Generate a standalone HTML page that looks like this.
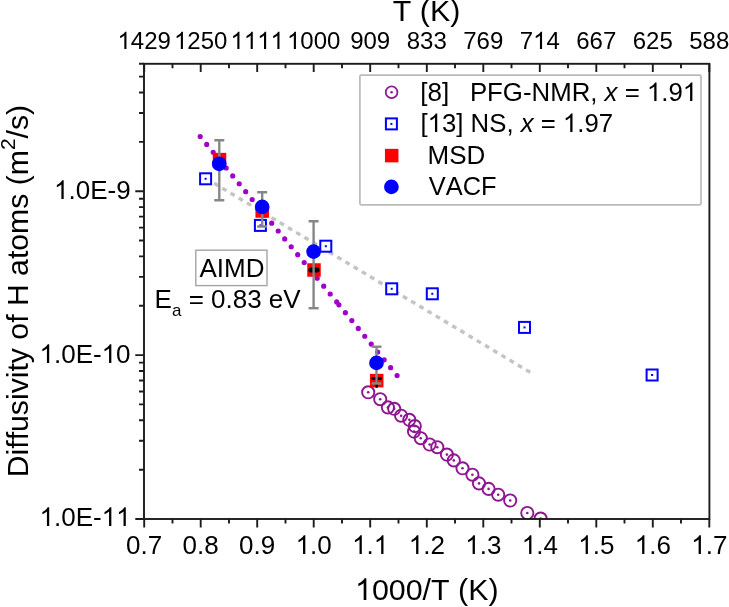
<!DOCTYPE html>
<html><head><meta charset="utf-8"><style>
html,body{margin:0;padding:0;background:#fff;}
body{width:729px;height:607px;overflow:hidden;font-family:"Liberation Sans",sans-serif;}
svg{display:block;} text{filter:grayscale(1);font-kerning:none;font-feature-settings:"kern" 0;}
</style></head><body>
<svg width="729" height="607" viewBox="0 0 729 607">
<rect width="729" height="607" fill="#fff"/>
<defs><clipPath id="pc"><rect x="144.0" y="63.8" width="565.4" height="455.2"/></clipPath></defs>
<g clip-path="url(#pc)">
<line x1="214.14" y1="183.27" x2="530.3" y2="372.4" stroke="#c4c4c4" stroke-width="3.4" stroke-dasharray="4.8 4.765"/>
<line x1="200.2" y1="136.5" x2="336.8" y2="302.0" stroke="#a000cc" stroke-width="5.2" stroke-linecap="round" stroke-dasharray="0 10.212"/>
<line x1="338.9" y1="304.8" x2="397.2" y2="375.7" stroke="#a000cc" stroke-width="5.2" stroke-linecap="round" stroke-dasharray="0 10.18"/>
<circle cx="368.2" cy="392.3" r="6.1" fill="none" stroke="#8e1690" stroke-width="1.9"/>
<circle cx="368.2" cy="392.3" r="1.3" fill="#8e1690"/>
<circle cx="380.2" cy="399.2" r="6.1" fill="none" stroke="#8e1690" stroke-width="1.9"/>
<circle cx="380.2" cy="399.2" r="1.3" fill="#8e1690"/>
<circle cx="387.9" cy="407.4" r="6.1" fill="none" stroke="#8e1690" stroke-width="1.9"/>
<circle cx="387.9" cy="407.4" r="1.3" fill="#8e1690"/>
<circle cx="394.2" cy="408.8" r="6.1" fill="none" stroke="#8e1690" stroke-width="1.9"/>
<circle cx="394.2" cy="408.8" r="1.3" fill="#8e1690"/>
<circle cx="401.1" cy="415.7" r="6.1" fill="none" stroke="#8e1690" stroke-width="1.9"/>
<circle cx="401.1" cy="415.7" r="1.3" fill="#8e1690"/>
<circle cx="409.3" cy="419.8" r="6.1" fill="none" stroke="#8e1690" stroke-width="1.9"/>
<circle cx="409.3" cy="419.8" r="1.3" fill="#8e1690"/>
<circle cx="414.8" cy="426.1" r="6.1" fill="none" stroke="#8e1690" stroke-width="1.9"/>
<circle cx="414.8" cy="426.1" r="1.3" fill="#8e1690"/>
<circle cx="414.0" cy="431.6" r="6.1" fill="none" stroke="#8e1690" stroke-width="1.9"/>
<circle cx="414.0" cy="431.6" r="1.3" fill="#8e1690"/>
<circle cx="420.8" cy="438.2" r="6.1" fill="none" stroke="#8e1690" stroke-width="1.9"/>
<circle cx="420.8" cy="438.2" r="1.3" fill="#8e1690"/>
<circle cx="429.6" cy="444.5" r="6.1" fill="none" stroke="#8e1690" stroke-width="1.9"/>
<circle cx="429.6" cy="444.5" r="1.3" fill="#8e1690"/>
<circle cx="437.3" cy="447.2" r="6.1" fill="none" stroke="#8e1690" stroke-width="1.9"/>
<circle cx="437.3" cy="447.2" r="1.3" fill="#8e1690"/>
<circle cx="446.9" cy="454.6" r="6.1" fill="none" stroke="#8e1690" stroke-width="1.9"/>
<circle cx="446.9" cy="454.6" r="1.3" fill="#8e1690"/>
<circle cx="453.8" cy="460.4" r="6.1" fill="none" stroke="#8e1690" stroke-width="1.9"/>
<circle cx="453.8" cy="460.4" r="1.3" fill="#8e1690"/>
<circle cx="462.5" cy="468.3" r="6.1" fill="none" stroke="#8e1690" stroke-width="1.9"/>
<circle cx="462.5" cy="468.3" r="1.3" fill="#8e1690"/>
<circle cx="472.4" cy="474.7" r="6.1" fill="none" stroke="#8e1690" stroke-width="1.9"/>
<circle cx="472.4" cy="474.7" r="1.3" fill="#8e1690"/>
<circle cx="479.0" cy="483.4" r="6.1" fill="none" stroke="#8e1690" stroke-width="1.9"/>
<circle cx="479.0" cy="483.4" r="1.3" fill="#8e1690"/>
<circle cx="488.6" cy="488.9" r="6.1" fill="none" stroke="#8e1690" stroke-width="1.9"/>
<circle cx="488.6" cy="488.9" r="1.3" fill="#8e1690"/>
<circle cx="498.2" cy="494.7" r="6.1" fill="none" stroke="#8e1690" stroke-width="1.9"/>
<circle cx="498.2" cy="494.7" r="1.3" fill="#8e1690"/>
<circle cx="510.2" cy="500.5" r="6.1" fill="none" stroke="#8e1690" stroke-width="1.9"/>
<circle cx="510.2" cy="500.5" r="1.3" fill="#8e1690"/>
<circle cx="527.3" cy="513.0" r="6.1" fill="none" stroke="#8e1690" stroke-width="1.9"/>
<circle cx="527.3" cy="513.0" r="1.3" fill="#8e1690"/>
<circle cx="540.6" cy="518.6" r="6.1" fill="none" stroke="#8e1690" stroke-width="1.9"/>
<circle cx="540.6" cy="518.6" r="1.3" fill="#8e1690"/>
<rect x="200.1" y="173.3" width="11" height="11" fill="#fff" stroke="#0000ff" stroke-width="2"/>
<rect x="204.6" y="177.8" width="2" height="2" fill="#0000ff"/>
<rect x="254.9" y="219.9" width="11" height="11" fill="#fff" stroke="#0000ff" stroke-width="2"/>
<rect x="259.4" y="224.4" width="2" height="2" fill="#0000ff"/>
<rect x="320.3" y="240.7" width="11" height="11" fill="#fff" stroke="#0000ff" stroke-width="2"/>
<rect x="324.8" y="245.2" width="2" height="2" fill="#0000ff"/>
<rect x="386.2" y="283.3" width="11" height="11" fill="#fff" stroke="#0000ff" stroke-width="2"/>
<rect x="390.7" y="287.8" width="2" height="2" fill="#0000ff"/>
<rect x="426.8" y="288.3" width="11" height="11" fill="#fff" stroke="#0000ff" stroke-width="2"/>
<rect x="431.3" y="292.8" width="2" height="2" fill="#0000ff"/>
<rect x="519.0" y="321.9" width="11" height="11" fill="#fff" stroke="#0000ff" stroke-width="2"/>
<rect x="523.5" y="326.4" width="2" height="2" fill="#0000ff"/>
<rect x="646.6" y="369.5" width="11" height="11" fill="#fff" stroke="#0000ff" stroke-width="2"/>
<rect x="651.1" y="374.0" width="2" height="2" fill="#0000ff"/>
<rect x="212.75" y="152.85" width="13.5" height="13.5" fill="#ff0000"/>
<rect x="255.45" y="204.25" width="13.5" height="13.5" fill="#ff0000"/>
<rect x="307.25" y="263.25" width="13.5" height="13.5" fill="#ff0000"/>
<rect x="369.95" y="373.85" width="13.5" height="13.5" fill="#ff0000"/>
<rect x="308.3" y="267.4" width="11.3" height="5" rx="2.5" fill="#000"/>
<line x1="376.6" y1="378.5" x2="376.6" y2="387.8" stroke="#000" stroke-width="2.4"/>
<line x1="372.6" y1="378.5" x2="380.6" y2="378.5" stroke="#000" stroke-width="2.8" stroke-linecap="round"/>
<line x1="219.3" y1="140.2" x2="219.3" y2="200.2" stroke="#878787" stroke-width="2.4"/>
<line x1="214.3" y1="140.2" x2="224.3" y2="140.2" stroke="#878787" stroke-width="2.4"/>
<line x1="214.3" y1="200.2" x2="224.3" y2="200.2" stroke="#878787" stroke-width="2.4"/>
<line x1="262.2" y1="192.3" x2="262.2" y2="226.5" stroke="#878787" stroke-width="2.4"/>
<line x1="257.2" y1="192.3" x2="267.2" y2="192.3" stroke="#878787" stroke-width="2.4"/>
<line x1="257.2" y1="226.5" x2="267.2" y2="226.5" stroke="#878787" stroke-width="2.4"/>
<line x1="313.6" y1="221.3" x2="313.6" y2="308.2" stroke="#878787" stroke-width="2.4"/>
<line x1="308.6" y1="221.3" x2="318.6" y2="221.3" stroke="#878787" stroke-width="2.4"/>
<line x1="308.6" y1="308.2" x2="318.6" y2="308.2" stroke="#878787" stroke-width="2.4"/>
<line x1="376.5" y1="346.7" x2="376.5" y2="383.5" stroke="#878787" stroke-width="2.4"/>
<line x1="371.5" y1="346.7" x2="381.5" y2="346.7" stroke="#878787" stroke-width="2.4"/>
<line x1="371.5" y1="383.5" x2="381.5" y2="383.5" stroke="#878787" stroke-width="2.4"/>
<circle cx="219.2" cy="163.8" r="7.35" fill="#0000ff"/>
<circle cx="262.2" cy="206.9" r="7.35" fill="#0000ff"/>
<circle cx="313.6" cy="251.6" r="7.35" fill="#0000ff"/>
<circle cx="376.5" cy="362.9" r="7.35" fill="#0000ff"/>
</g>
<g stroke="#1c1c1c" stroke-width="1.9" fill="none">
<rect x="144.0" y="63.8" width="565.4" height="455.2"/>
<path d="M144.2 519.0V527.5 M144.2 63.8V72.1 M200.7 519.0V527.5 M200.7 63.8V72.1 M257.2 519.0V527.5 M257.2 63.8V72.1 M313.7 519.0V527.5 M313.7 63.8V72.1 M370.2 519.0V527.5 M370.2 63.8V72.1 M426.8 519.0V527.5 M426.8 63.8V72.1 M483.3 519.0V527.5 M483.3 63.8V72.1 M539.8 519.0V527.5 M539.8 63.8V72.1 M596.3 519.0V527.5 M596.3 63.8V72.1 M652.8 519.0V527.5 M652.8 63.8V72.1 M709.3 519.0V527.5 M709.3 63.8V72.1 M172.5 519.0V523.5 M172.5 63.8V68.3 M229.0 519.0V523.5 M229.0 63.8V68.3 M285.5 519.0V523.5 M285.5 63.8V68.3 M342.0 519.0V523.5 M342.0 63.8V68.3 M398.5 519.0V523.5 M398.5 63.8V68.3 M455.0 519.0V523.5 M455.0 63.8V68.3 M511.5 519.0V523.5 M511.5 63.8V68.3 M568.0 519.0V523.5 M568.0 63.8V68.3 M624.5 519.0V523.5 M624.5 63.8V68.3 M681.0 519.0V523.5 M681.0 63.8V68.3 M135.3 519.0H144.0 M139.0 469.7H144.0 M139.0 440.8H144.0 M139.0 420.3H144.0 M139.0 404.4H144.0 M139.0 391.5H144.0 M139.0 380.5H144.0 M139.0 371.0H144.0 M139.0 362.6H144.0 M135.3 355.1H144.0 M139.0 305.8H144.0 M139.0 276.9H144.0 M139.0 256.4H144.0 M139.0 240.5H144.0 M139.0 227.6H144.0 M139.0 216.6H144.0 M139.0 207.1H144.0 M139.0 198.7H144.0 M135.3 191.2H144.0 M139.0 141.9H144.0 M139.0 113.0H144.0 M139.0 92.5H144.0 M139.0 76.6H144.0 M139.0 63.7H144.0"/>
</g>
<g font-family="Liberation Sans, sans-serif" font-size="26" fill="#000">
<text x="130.6" y="199" text-anchor="end"> .0E-9</text>
<text x="130.6" y="363" text-anchor="end"> .0E- 0</text>
<text x="130.6" y="526" text-anchor="end"> .0E-  </text>
<text x="144.2" y="554" text-anchor="middle">0.7</text>
<text x="200.7" y="554" text-anchor="middle">0.8</text>
<text x="257.2" y="554" text-anchor="middle">0.9</text>
<text x="313.7" y="554" text-anchor="middle"> .0</text>
<text x="370.2" y="554" text-anchor="middle"> . </text>
<text x="426.8" y="554" text-anchor="middle"> .2</text>
<text x="483.3" y="554" text-anchor="middle"> .3</text>
<text x="539.8" y="554" text-anchor="middle"> .4</text>
<text x="596.3" y="554" text-anchor="middle"> .5</text>
<text x="652.8" y="554" text-anchor="middle"> .6</text>
<text x="709.3" y="554" text-anchor="middle"> .7</text>
</g>
<g font-family="Liberation Sans, sans-serif" font-size="24" fill="#000">
<text x="144.2" y="49" text-anchor="middle"> 429</text>
<text x="200.7" y="49" text-anchor="middle"> 250</text>
<text x="257.2" y="49" text-anchor="middle">    </text>
<text x="313.7" y="49" text-anchor="middle"> 000</text>
<text x="370.2" y="49" text-anchor="middle">909</text>
<text x="426.8" y="49" text-anchor="middle">833</text>
<text x="483.3" y="49" text-anchor="middle">769</text>
<text x="539.8" y="49" text-anchor="middle">7 4</text>
<text x="596.3" y="49" text-anchor="middle">667</text>
<text x="652.8" y="49" text-anchor="middle">625</text>
<text x="709.3" y="49" text-anchor="middle">588</text>
</g>
<g font-family="Liberation Sans, sans-serif" font-size="30" fill="#000">
<text x="426.6" y="21" text-anchor="middle" font-size="30.4">T (K)</text>
<text x="426.8" y="600" text-anchor="middle" font-size="30.4"> 000/T (K)</text>
<text transform="translate(28.2,477.2) rotate(-90)" x="0" y="0" font-size="30.2">Diffusivity of H atoms (m<tspan font-size="21" dy="-13.5">2</tspan><tspan dy="13.5">/s)</tspan></text>
</g>
<rect x="359.9" y="75.1" width="341.1" height="129.7" rx="1.2" fill="#fff" stroke="#bababa" stroke-width="1.7"/>
<circle cx="391.6" cy="92.3" r="5.85" fill="none" stroke="#901a94" stroke-width="1.8"/><circle cx="391.6" cy="92.3" r="1.3" fill="#901a94"/>
<rect x="385.9" y="118.4" width="11" height="11" fill="none" stroke="#0000ff" stroke-width="2"/><rect x="390.4" y="122.9" width="2" height="2" fill="#0000ff"/>
<rect x="384.95" y="148.85" width="13.5" height="13.5" fill="#ff0000"/>
<circle cx="391.4" cy="186.9" r="7.35" fill="#0000ff"/>
<g font-family="Liberation Sans, sans-serif" font-size="26" fill="#000">
<text x="420.3" y="101">[8]</text><text x="469.9" y="101" font-size="25.8">PFG-NMR, <tspan font-style="italic">x</tspan> =  .9 </text>
<text x="420.5" y="132" font-size="25.75">[ 3] NS, <tspan font-style="italic">x</tspan> =  .97</text>
<text x="427.5" y="164">MSD</text>
<text x="428.8" y="195" font-size="25.4">VACF</text>
</g>
<rect x="195.8" y="250.2" width="71.2" height="35.4" fill="#fff" stroke="#a4a4a4" stroke-width="1.4"/>
<text font-family="Liberation Sans, sans-serif" font-size="26" x="199.5" y="277">AIMD</text>
<text font-family="Liberation Sans, sans-serif" font-size="26" x="154.6" y="308">E<tspan font-size="17" dy="7.5">a</tspan><tspan dy="-7.5"> = 0.83 eV</tspan></text>
<defs><path id="one" d="M763 0H583V1147Q518 1085 412.5 1023Q307 961 223 930V1104Q374 1175 487 1276Q600 1377 647 1472H763Z"/></defs><g fill="#000" class="ones"><use href="#one" transform="translate(53.99,199.00) scale(0.012695,-0.012695)"/><use href="#one" transform="translate(39.52,363.00) scale(0.012695,-0.012695)"/><use href="#one" transform="translate(101.66,363.00) scale(0.012695,-0.012695)"/><use href="#one" transform="translate(39.52,526.00) scale(0.012695,-0.012695)"/><use href="#one" transform="translate(101.66,526.00) scale(0.012695,-0.012695)"/><use href="#one" transform="translate(116.12,526.00) scale(0.012695,-0.012695)"/><use href="#one" transform="translate(295.62,554.00) scale(0.012695,-0.012695)"/><use href="#one" transform="translate(352.12,554.00) scale(0.012695,-0.012695)"/><use href="#one" transform="translate(373.79,554.00) scale(0.012695,-0.012695)"/><use href="#one" transform="translate(408.72,554.00) scale(0.012695,-0.012695)"/><use href="#one" transform="translate(465.22,554.00) scale(0.012695,-0.012695)"/><use href="#one" transform="translate(521.72,554.00) scale(0.012695,-0.012695)"/><use href="#one" transform="translate(578.22,554.00) scale(0.012695,-0.012695)"/><use href="#one" transform="translate(634.72,554.00) scale(0.012695,-0.012695)"/><use href="#one" transform="translate(691.22,554.00) scale(0.012695,-0.012695)"/><use href="#one" transform="translate(117.50,49.00) scale(0.011719,-0.011719)"/><use href="#one" transform="translate(174.00,49.00) scale(0.011719,-0.011719)"/><use href="#one" transform="translate(230.50,49.00) scale(0.011719,-0.011719)"/><use href="#one" transform="translate(243.85,49.00) scale(0.011719,-0.011719)"/><use href="#one" transform="translate(257.19,49.00) scale(0.011719,-0.011719)"/><use href="#one" transform="translate(270.54,49.00) scale(0.011719,-0.011719)"/><use href="#one" transform="translate(287.00,49.00) scale(0.011719,-0.011719)"/><use href="#one" transform="translate(533.12,49.00) scale(0.011719,-0.011719)"/><use href="#one" transform="translate(355.01,600.00) scale(0.014844,-0.014844)"/><use href="#one" transform="translate(646.90,101.00) scale(0.012598,-0.012598)"/><use href="#one" transform="translate(682.76,101.00) scale(0.012598,-0.012598)"/><use href="#one" transform="translate(427.64,132.00) scale(0.012573,-0.012573)"/><use href="#one" transform="translate(562.91,132.00) scale(0.012573,-0.012573)"/></g></svg>
</body></html>
